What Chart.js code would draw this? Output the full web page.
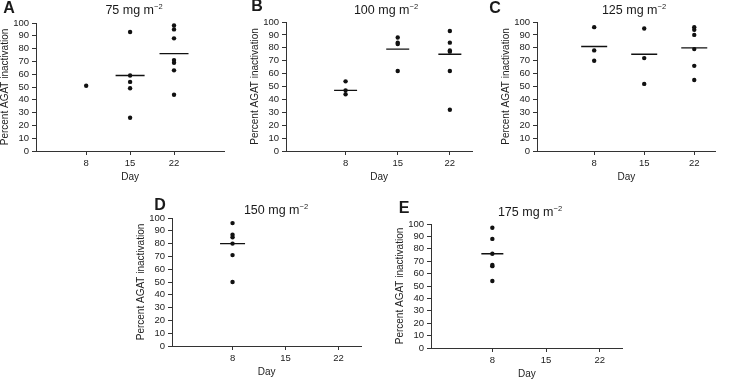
<!DOCTYPE html>
<html>
<head>
<meta charset="utf-8">
<script src="https://cdn.jsdelivr.net/npm/chart.js@4.4.0/dist/chart.umd.min.js"></script>
<style>
  html, body { margin: 0; padding: 0; background: #fff; }
  body { width: 730px; height: 379px; position: relative; overflow: hidden;
         font-family: "Liberation Sans", Arial, Helvetica, sans-serif; color: #1a1a1a; }
  canvas { position: absolute; }
  .lbl { position: absolute; transform: translate(-50%, -50%); white-space: nowrap; line-height: 1; }
  .letter { font-weight: bold; font-size: 16px; }
  .ttl { font-size: 12.5px; }
  .ttl sup { font-size: 7.5px; vertical-align: 5px; line-height: 0; }
</style>
</head>
<body>
<canvas id="chartA" width="240" height="190" style="left:0;top:0"></canvas>
<canvas id="chartB" width="240" height="190" style="left:245px;top:0"></canvas>
<canvas id="chartC" width="240" height="190" style="left:490px;top:0"></canvas>
<canvas id="chartD" width="245" height="189" style="left:130px;top:190px"></canvas>
<canvas id="chartE" width="250" height="189" style="left:385px;top:190px"></canvas>

<div class="lbl letter" style="left:9px;top:8px">A</div>
<div class="lbl letter" style="left:257px;top:6px">B</div>
<div class="lbl letter" style="left:495px;top:8px">C</div>
<div class="lbl letter" style="left:160px;top:205px">D</div>
<div class="lbl letter" style="left:404px;top:208px">E</div>

<div class="lbl ttl" style="left:134px;top:10px">75 mg m<sup>−2</sup></div>
<div class="lbl ttl" style="left:386px;top:10px">100 mg m<sup>−2</sup></div>
<div class="lbl ttl" style="left:634px;top:10px">125 mg m<sup>−2</sup></div>
<div class="lbl ttl" style="left:276px;top:210px">150 mg m<sup>−2</sup></div>
<div class="lbl ttl" style="left:530px;top:212px">175 mg m<sup>−2</sup></div>

<script>
document.addEventListener("DOMContentLoaded", () => {
  // --- DATOS ---
  const days = [8, 15, 22];
  const yTickValues = [0, 10, 20, 30, 40, 50, 60, 70, 80, 90, 100];

  // A: 75 mg m-2
  const aDay8 = [51];
  const aDay15 = [93, 59, 54, 49, 26];
  const aDay22 = [98, 95, 88, 71, 69, 63, 44];
  const aMeans = [null, 59, 76];

  // B: 100 mg m-2
  const bDay8 = [54, 47, 44];
  const bDay15 = [88, 84, 83, 62];
  const bDay22 = [93, 84, 78, 77, 62, 32];
  const bMeans = [47, 79, 75];

  // C: 125 mg m-2
  const cDay8 = [96, 78, 70];
  const cDay15 = [95, 72, 52];
  const cDay22 = [96, 94, 90, 79, 66, 55];
  const cMeans = [81, 75, 80];

  // D: 150 mg m-2
  const dDay8 = [96, 87, 85, 80, 71, 50];
  const dMeans = [80, null, null];

  // E: 175 mg m-2
  const eDay8 = [97, 88, 76, 67, 66, 54];
  const eMeans = [76, null, null];

  // --- ESTILO ---
  const FONT = "'Liberation Sans', Arial, Helvetica, sans-serif";
  const INK = "#111";
  const AXIS = "#333";

  // --- HELPERS ---
  const toPoints = (groups) =>
    groups.flatMap((vals, i) => vals.map((v) => ({ x: days[i], y: v })));
  const toMeanPoints = (means) =>
    means.map((m, i) => (m == null ? null : { x: days[i], y: m })).filter(Boolean);

  const makePanel = (id, groups, means, layout) => {
    const canvas = document.getElementById(id);
    if (!canvas) return;
    new Chart(canvas.getContext("2d"), {
      type: "scatter",
      data: {
        datasets: [
          {
            data: toPoints(groups),
            pointRadius: 2.2,
            pointBackgroundColor: INK,
            pointBorderWidth: 0,
          },
          {
            data: toMeanPoints(means),
            pointStyle: "line",
            pointRadius: layout.meanHalf,
            pointBorderColor: INK,
            pointBorderWidth: 1.3,
          },
        ],
      },
      options: {
        responsive: false,
        animation: false,
        devicePixelRatio: 1,
        layout: { padding: { top: layout.top, right: layout.right, left: 0, bottom: 0 } },
        plugins: { legend: { display: false }, tooltip: { enabled: false } },
        scales: {
          x: {
            type: "linear",
            min: 0,
            max: layout.xMax,
            afterBuildTicks: (s) => { s.ticks = days.map((v) => ({ value: v })); },
            afterFit: (s) => { s.height = layout.xH; },
            grid: { drawOnChartArea: false, tickLength: 4, color: AXIS },
            border: { color: AXIS, width: 1 },
            ticks: { font: { size: 9.5, family: FONT }, color: "#222", padding: 3, maxRotation: 0, autoSkip: false },
            title: {
              display: true, text: "Day", color: "#222",
              font: { size: 10, family: FONT, lineHeight: 1 },
              padding: { top: 0, bottom: layout.xTitlePad },
            },
          },
          y: {
            min: 0,
            max: 100,
            afterBuildTicks: (s) => { s.ticks = yTickValues.map((v) => ({ value: v })); },
            afterFit: (s) => { s.width = layout.yW; },
            grid: { drawOnChartArea: false, tickLength: 4, color: AXIS },
            border: { color: AXIS, width: 1 },
            ticks: { font: { size: 9.5, family: FONT }, color: "#222", padding: 3, autoSkip: false },
            title: {
              display: true, text: "Percent AGAT inactivation", color: "#222",
              font: { size: 10, family: FONT, lineHeight: 1 },
              padding: { top: layout.yW - 31 - 5, bottom: 0 },
            },
          },
        },
      },
    });
  };

  // --- INICIALIZACIÓN ---
  makePanel("chartA", [aDay8, aDay15, aDay22], aMeans,
    { xMax: 30, yW: 36, top: 23, right: 10, xH: 39, xTitlePad: 8, meanHalf: 14.5 });
  makePanel("chartB", [bDay8, bDay15, bDay22], bMeans,
    { xMax: 25, yW: 41, top: 22, right: 6, xH: 39, xTitlePad: 8, meanHalf: 11.5 });
  makePanel("chartC", [cDay8, cDay15, cDay22], cMeans,
    { xMax: 25, yW: 47, top: 22, right: 0, xH: 39, xTitlePad: 8, meanHalf: 13 });
  makePanel("chartD", [dDay8, [], []], dMeans,
    { xMax: 25, yW: 42, top: 28, right: 8, xH: 33, xTitlePad: 2, meanHalf: 12.5 });
  makePanel("chartE", [eDay8, [], []], eMeans,
    { xMax: 25, yW: 46, top: 34, right: 8, xH: 31, xTitlePad: 0, meanHalf: 11 });
});
</script>
</body>
</html>
